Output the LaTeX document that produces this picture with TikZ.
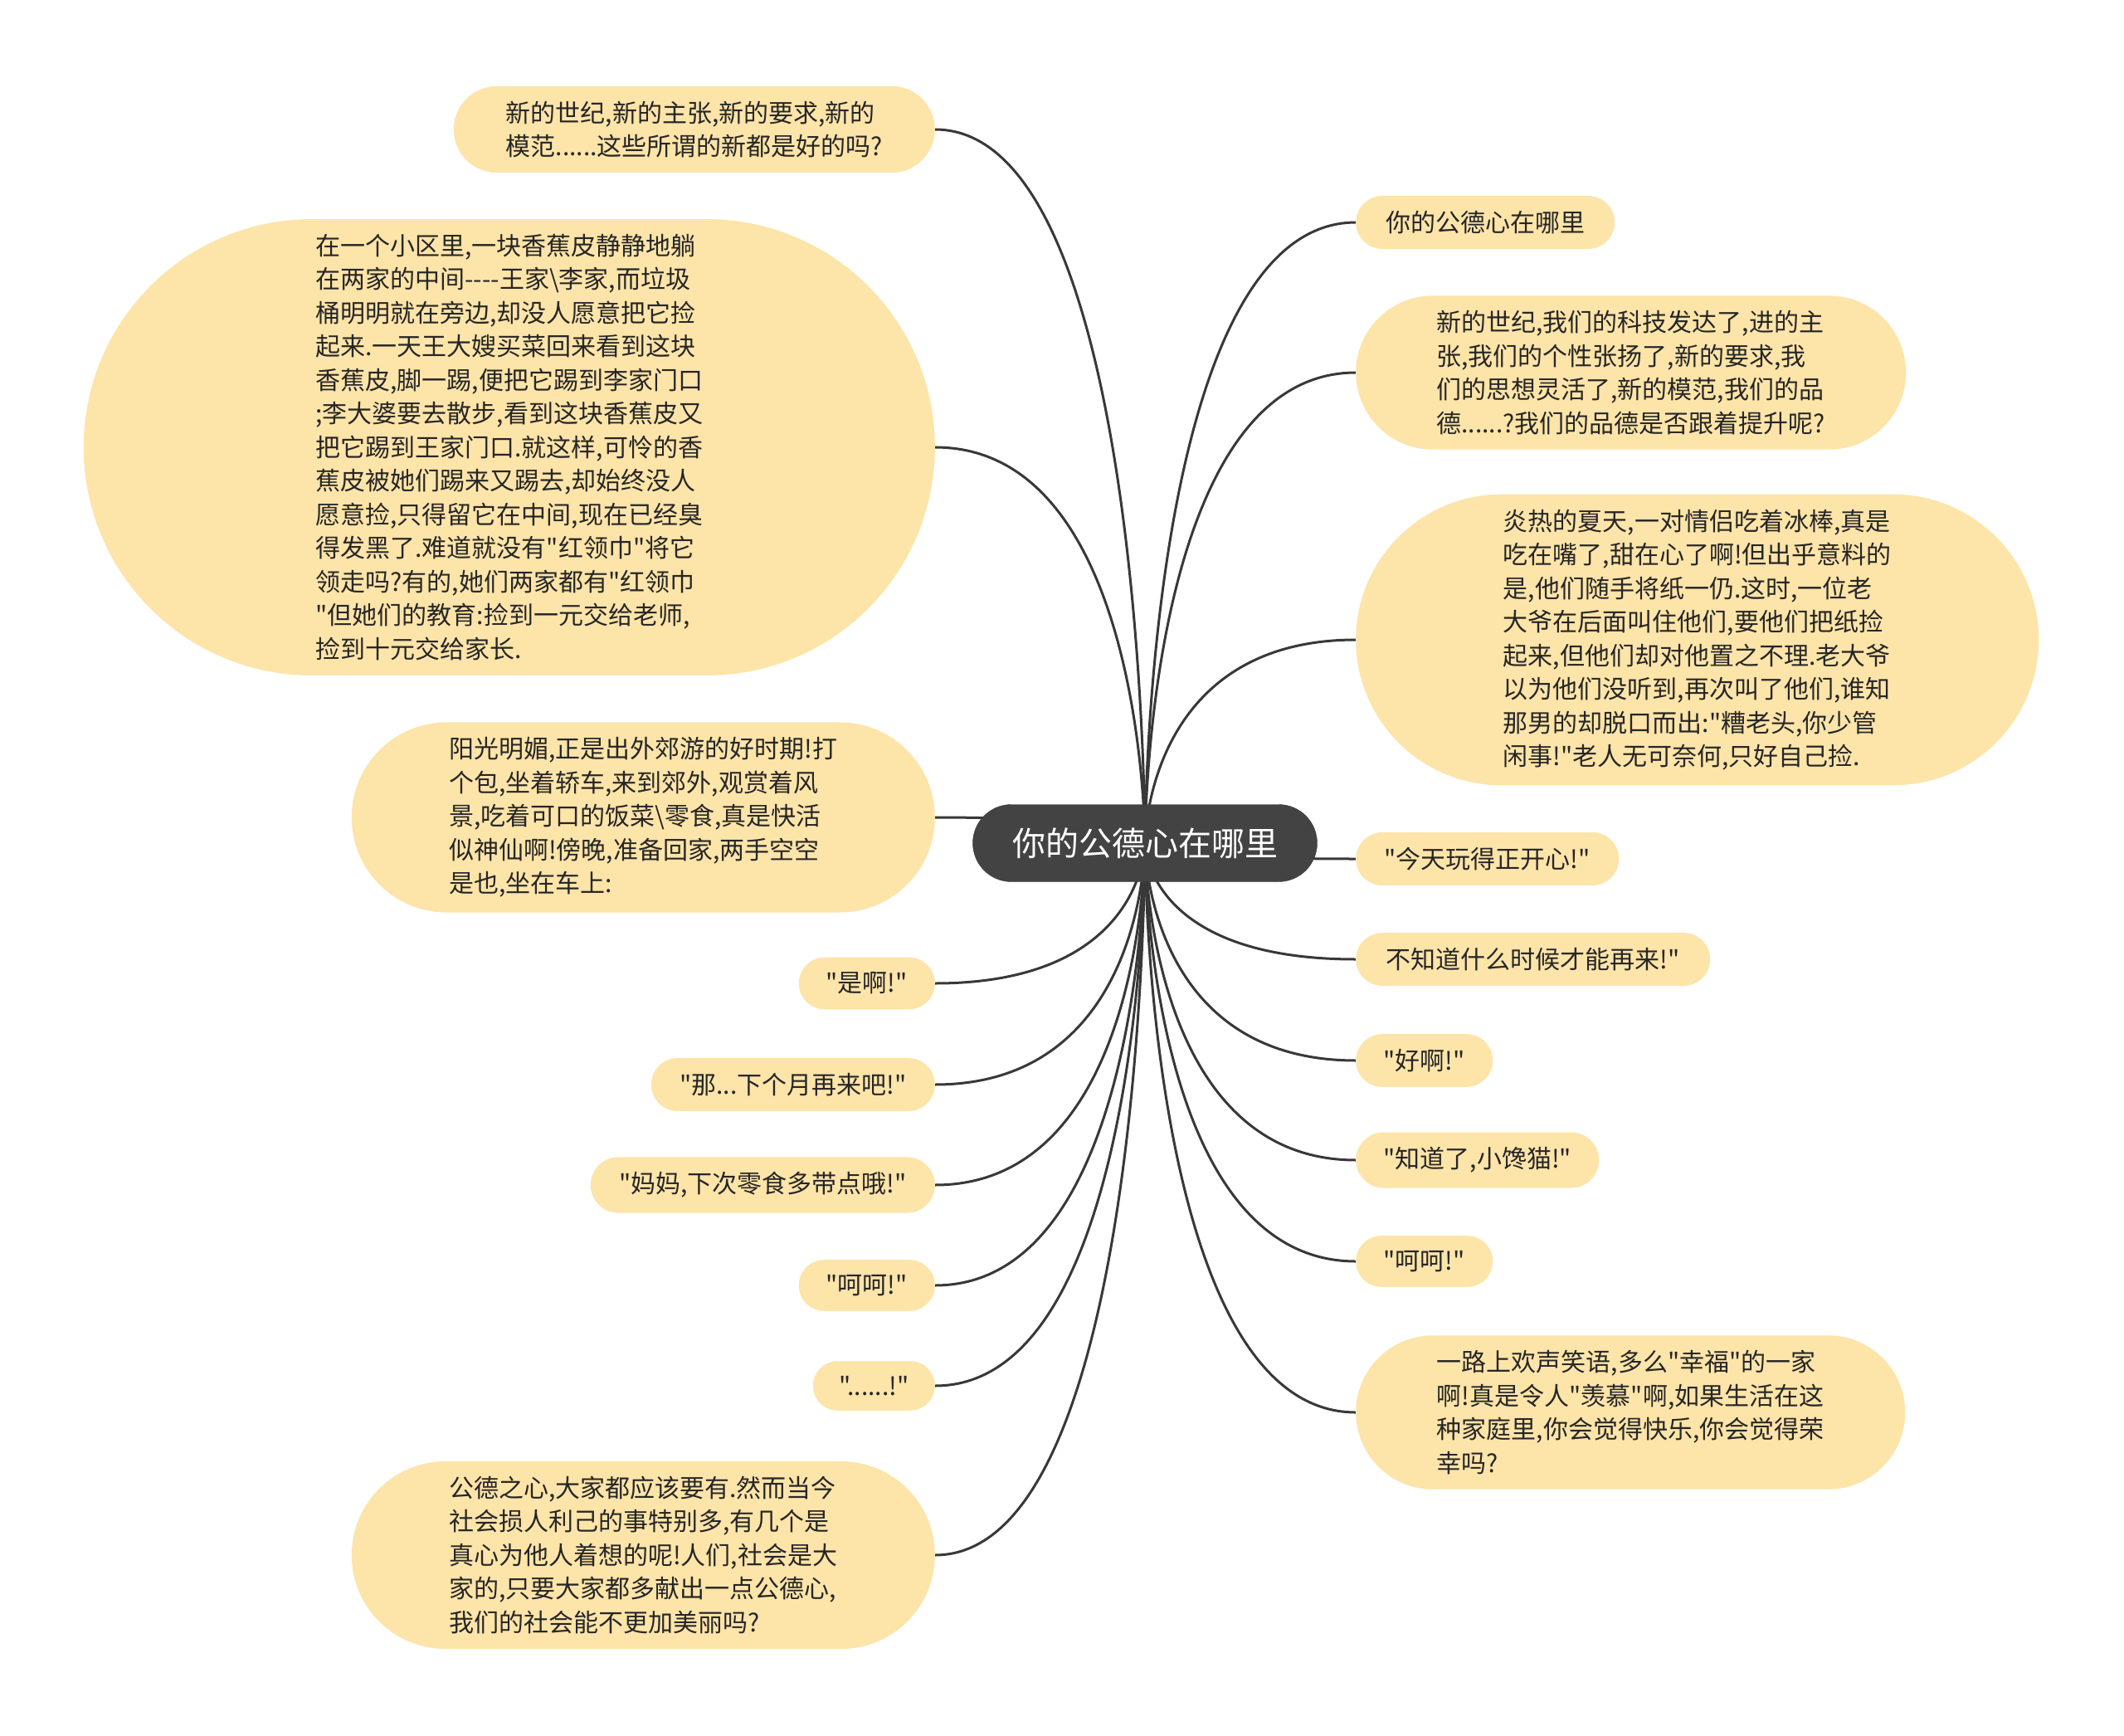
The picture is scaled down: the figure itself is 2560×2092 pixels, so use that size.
\documentclass[tikz,border=0pt]{standalone}
\usepackage{fontspec}
\setmainfont{Noto Sans CJK SC}[Ligatures=TeXOff]
\usepackage{xcolor}
\usepackage{tikz}
\usetikzlibrary{shapes.misc, backgrounds}
\definecolor{topicfill}{HTML}{FDE4A9}
\definecolor{rootfill}{HTML}{434343}
\definecolor{linegray}{HTML}{383838}
\definecolor{textdark}{HTML}{262626}

\begin{document}
\begin{tikzpicture}[
    x=1pt, y={(0pt,-1pt)},
    rootbox/.style={rounded rectangle, fill=rootfill, draw=rootfill!85!black, text=white, font=\fontsize{40}{48}\selectfont, minimum width=415pt, minimum height=93pt, inner xsep=0pt},
    topic/.style={rounded rectangle, fill=topicfill, text=textdark, align=left, font=\fontsize{30}{40.5}\selectfont, inner xsep=0pt, inner ysep=18pt},
    leftbox/.style={topic, anchor=east},
    rightbox/.style={topic, anchor=west},
    branch/.style={line width=3pt, draw=linegray}
]
    \useasboundingbox (0,0) rectangle (2560,2092);

    % Root
    \node[rootbox] (root) at (1380,1016) {你的公德心在哪里};

    % Left side
    \node[leftbox, minimum width=580pt] (l1) at (1127,156) {
        新的世纪,新的主张,新的要求,新的\\
        模范......这些所谓的新都是好的吗?
    };
    \node[leftbox, minimum width=1026pt] (l2) at (1127,539) {
        在一个小区里,一块香蕉皮静静地躺\\
        在两家的中间-{}-{}-{}-王家\textbackslash{}李家,而垃圾\\
        桶明明就在旁边,却没人愿意把它捡\\
        起来.一天王大嫂买菜回来看到这块\\
        香蕉皮,脚一踢,便把它踢到李家门口\\
        ;李大婆要去散步,看到这块香蕉皮又\\
        把它踢到王家门口.就这样,可怜的香\\
        蕉皮被她们踢来又踢去,却始终没人\\
        愿意捡,只得留它在中间,现在已经臭\\
        得发黑了.难道就没有"红领巾"将它\\
        领走吗?有的,她们两家都有"红领巾\\
        "但她们的教育:捡到一元交给老师,\\
        捡到十元交给家长.
    };
    \node[leftbox, minimum width=703pt] (l3) at (1127,985) {
        阳光明媚,正是出外郊游的好时期!打\\
        个包,坐着轿车,来到郊外,观赏着风\\
        景,吃着可口的饭菜\textbackslash{}零食,真是快活\\
        似神仙啊!傍晚,准备回家,两手空空\\
        是也,坐在车上:
    };
    \node[leftbox, minimum width=164pt] (l4) at (1127,1185) {"是啊!"};
    \node[leftbox, minimum width=342pt] (l5) at (1127,1307) {"那...下个月再来吧!"};
    \node[leftbox, minimum width=415pt] (l6) at (1127,1428) {"妈妈,下次零食多带点哦!"};
    \node[leftbox, minimum width=164pt] (l7) at (1127,1549) {"呵呵!"};
    \node[leftbox, minimum width=147pt] (l8) at (1127,1670) {"......!"};
    \node[leftbox, minimum width=703pt] (l9) at (1127,1874) {
        公德之心,大家都应该要有.然而当今\\
        社会损人利己的事特别多,有几个是\\
        真心为他人着想的呢!人们,社会是大\\
        家的,只要大家都多献出一点公德心,\\
        我们的社会能不更加美丽吗?
    };

    % Right side
    \node[rightbox, minimum width=312pt] (r1) at (1634,268) {你的公德心在哪里};
    \node[rightbox, minimum width=663pt] (r2) at (1634,449) {
        新的世纪,我们的科技发达了,进的主\\
        张,我们的个性张扬了,新的要求,我\\
        们的思想灵活了,新的模范,我们的品\\
        德......?我们的品德是否跟着提升呢?
    };
    \node[rightbox, minimum width=823pt] (r3) at (1634,771) {
        炎热的夏天,一对情侣吃着冰棒,真是\\
        吃在嘴了,甜在心了啊!但出乎意料的\\
        是,他们随手将纸一仍.这时,一位老\\
        大爷在后面叫住他们,要他们把纸捡\\
        起来,但他们却对他置之不理.老大爷\\
        以为他们没听到,再次叫了他们,谁知\\
        那男的却脱口而出:"糟老头,你少管\\
        闲事!"老人无可奈何,只好自己捡.
    };
    \node[rightbox, minimum width=317pt] (r4) at (1634,1035) {"今天玩得正开心!"};
    \node[rightbox, minimum width=427pt] (r5) at (1634,1156) {不知道什么时候才能再来!"};
    \node[rightbox, minimum width=165pt] (r6) at (1634,1278) {"好啊!"};
    \node[rightbox, minimum width=293pt] (r7) at (1634,1398) {"知道了,小馋猫!"};
    \node[rightbox, minimum width=165pt] (r8) at (1634,1520) {"呵呵!"};
    \node[rightbox, minimum width=662pt] (r9) at (1634,1702) {
        一路上欢声笑语,多么"幸福"的一家\\
        啊!真是令人"羡慕"啊,如果生活在这\\
        种家庭里,你会觉得快乐,你会觉得荣\\
        幸吗?
    };

    % Connectors (behind the nodes)
    \begin{scope}[on background layer]
        \fill[white] (0,0) rectangle (2560,2092);
        \foreach \n in {l1,l2,l3,l4,l5,l6,l7,l8,l9}
            \draw[branch] (root.center) .. controls (root.center) and (root.center |- \n.east) .. (\n.east);
        \foreach \n in {r1,r2,r3,r4,r5,r6,r7,r8,r9}
            \draw[branch] (root.center) .. controls (root.center) and (root.center |- \n.west) .. (\n.west);
    \end{scope}
\end{tikzpicture}
\end{document}
